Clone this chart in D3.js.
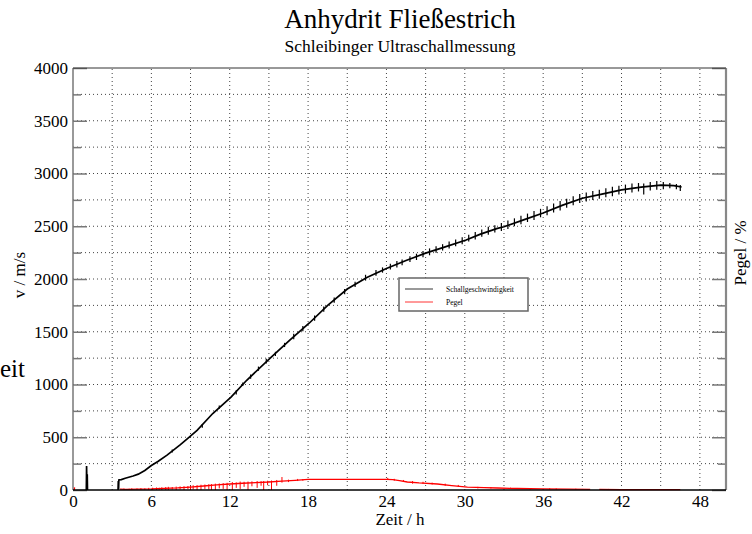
<!DOCTYPE html>
<html><head><meta charset="utf-8">
<script src="https://cdn.jsdelivr.net/npm/d3@7"></script>
<style>
html,body{margin:0;padding:0;background:#fff;overflow:hidden}
svg{display:block;font-family:"Liberation Serif","Times New Roman",serif}
</style></head>
<body>
<svg id="c" width="752" height="534"></svg>
<script>
// ---- data ----
const title = "Anhydrit Fließestrich";
const subtitle = "Schleibinger Ultraschallmessung";
const xLabel = "Zeit / h";
const yLabel = "v / m/s";
const y2Label = "Pegel / %";
const strayText = "eit";
const seriesNames = ["Schallgeschwindigkeit", "Pegel"];
const xTicks = [0, 6, 12, 18, 24, 30, 36, 42, 48];
const yTicks = [0, 500, 1000, 1500, 2000, 2500, 3000, 3500, 4000];

// Schallgeschwindigkeit (m/s), hours
const vHours = [1.02, 1.04, 1.07, 1.09, 1.11, null,
  3.45, 3.47, 3.49, 3.51, 3.7, 4.0, 4.6, 5.0, 5.5, 6.0, 6.5, 7.2, 8.2, 8.7, 9.5, 10.7, 12.1, 13.3, 15.1, 16.6,
  18.1, 19.5, 21.0, 22.5, 24.0, 25.5, 27.0, 28.5, 30.1, 31.2, 32.5, 33.0, 34.5, 36.0, 37.5, 39.0, 40.5,
  42.0, 43.5, 45.0, 46.0, 46.6];
const vValues = [0, 227, 0, 150, 0, null,
  0, 85, 10, 95, 98, 112, 133, 150, 185, 232, 270, 330, 427, 480, 565, 725, 880, 1040, 1250, 1420,
  1583, 1750, 1905, 2015, 2100, 2175, 2245, 2305, 2370, 2425, 2480, 2495, 2560, 2625, 2700, 2765, 2805,
  2845, 2870, 2890, 2885, 2872];
// short vertical jitter strokes of the black trace: [hour, low, high]
const vJitter = [[7.6,355,385],[9.9,590,625],[11.2,770,800],[12.5,905,945],[13.0,985,1020],[13.6,1055,1095],
  [14.2,1130,1170],[14.8,1200,1245],[15.5,1270,1310],[16.2,1355,1395],[16.9,1430,1480],[17.6,1505,1555],
  [18.5,1605,1655],[19.2,1690,1740],[20.0,1775,1825],[20.8,1855,1905],[21.6,1925,1975],[22.4,1985,2040],
  [23.2,2030,2085],[23.7,2060,2110],[24.3,2090,2145],[24.8,2110,2170],[25.2,2130,2185],[25.8,2160,2215],
  [26.3,2180,2240],[26.8,2205,2265],[27.3,2225,2290],[27.8,2250,2310],[28.3,2270,2330],[28.8,2290,2355],
  [29.3,2310,2375],[29.8,2330,2395],[30.3,2355,2420],[30.8,2375,2445],[31.3,2400,2470],[31.8,2420,2495],
  [32.3,2440,2510],[32.8,2455,2530],[33.3,2475,2555],[33.8,2500,2575],[34.3,2520,2600],[34.8,2540,2620],
  [35.3,2560,2645],[35.8,2585,2665],[36.3,2605,2690],[36.8,2630,2715],[37.3,2650,2740],[37.8,2675,2760],
  [38.3,2700,2785],[38.8,2720,2805],[39.3,2735,2820],[39.8,2750,2835],[40.3,2760,2845],[40.8,2775,2860],
  [41.3,2785,2875],[41.8,2800,2885],[42.3,2810,2895],[42.8,2820,2905],[43.3,2830,2910],[43.7,2800,2905],
  [44.2,2840,2920],[44.7,2845,2930],[45.2,2850,2920],[45.7,2860,2910],[46.2,2850,2900],[46.5,2835,2890]];

// Pegel (%), hours
const pHours = [0.10, 0.12, null, 3.6, 4.0, 5.0, 6.0, 7.0, 8.0, 9.0, 10.0, 11.0, 12.0, 13.0, 14.0, 15.0, 16.0, 17.0,
  18.0, 24.0, 24.5, 25.0, 25.6, 26.5, 27.9, 29.0, 30.2, 31.5, 32.5, 34.0, 36.0, 38.0, 39.6, null,
  40.3, 42.0, 44.0, 46.5];
const pValues = [0, 25, null, 8, 5, 8, 10, 15, 20, 28, 38, 48, 57, 64, 70, 76, 85, 92,
  100, 100, 98, 88, 76, 67, 57, 42, 28, 22, 19, 14, 10, 8, 6, null,
  5, 4, 4, 3];
// noise strokes of the red trace: [hour, low, high]
const pSpikes = [[3.9,0,14],[4.3,0,12],[4.5,0,16],[4.9,2,15],[5.2,0,18],[5.5,0,16],[5.8,0,20],[6.1,0,22],
  [6.4,0,24],[6.6,2,22],[6.8,0,26],[7.1,0,28],[7.3,0,30],[7.6,5,28],[7.9,0,32],[8.2,5,34],[8.5,0,36],
  [8.8,8,38],[9.0,0,40],[9.2,5,45],[9.5,0,46],[9.8,0,50],[10.1,10,52],[10.4,5,55],[10.6,0,56],[10.9,0,60],
  [11.2,15,62],[11.5,10,65],[11.8,0,68],[12.2,0,75],[12.5,20,72],[12.8,10,80],[13.1,30,78],[13.4,0,80],
  [13.7,35,82],[14.1,20,85],[14.4,40,84],[14.6,0,85],[14.9,45,88],[15.2,0,90],[15.6,40,95],[16.0,70,123],
  [16.5,75,98],[17.2,85,105],[17.6,88,104],[24.1,95,115],[24.6,88,106],[25.3,78,95],[26.0,60,85],
  [26.8,58,78],[27.5,52,70],[28.5,40,60],[29.5,30,48],[31.0,15,30],[32.0,14,26],[33.5,10,22],[35.0,5,18],
  [36.5,4,16],[37.0,3,15],[38.5,2,12],[41.0,0,10],[43.0,0,9],[45.0,0,8]];

// ---- chart ----
const svg = d3.select("#c");
const x = d3.scaleLinear().domain([0, 50]).range([73, 726]);
const y = d3.scaleLinear().domain([0, 4000]).range([490, 68]);

// grid
const gx = d3.range(3, 50, 3), gy = d3.range(250, 4000, 250);
svg.append("g").selectAll("line").data(gx).join("line")
  .attr("x1", d => x(d)).attr("x2", d => x(d)).attr("y1", y(0)).attr("y2", y(4000))
  .attr("stroke", "#444").attr("stroke-width", 1).attr("stroke-dasharray", "1,3");
svg.append("g").selectAll("line").data(gy).join("line")
  .attr("y1", d => y(d)).attr("y2", d => y(d)).attr("x1", x(0)).attr("x2", x(50))
  .attr("stroke", "#444").attr("stroke-width", 1).attr("stroke-dasharray", "1,3");

// left axis
const axL = svg.append("g").attr("transform", `translate(${x(0)},0)`)
  .call(d3.axisLeft(y).tickValues(yTicks).tickSize(-14).tickPadding(5).tickFormat(d3.format("d")));
axL.select(".domain").remove();
axL.selectAll("line").attr("stroke", "#777").attr("stroke-width", 1.5);
axL.selectAll("text").attr("font-size", 17).attr("font-family", "Liberation Serif").attr("fill", "#000");
const axLm = svg.append("g").attr("transform", `translate(${x(0)},0)`)
  .call(d3.axisLeft(y).tickValues(gy.filter(d => d % 500)).tickSize(-8).tickFormat(""));
axLm.select(".domain").remove();
axLm.selectAll("line").attr("stroke", "#777").attr("stroke-width", 1.5);

// right axis (no labels)
const axR = svg.append("g").attr("transform", `translate(${x(50)},0)`)
  .call(d3.axisRight(y).tickValues(yTicks).tickSize(-14).tickFormat(""));
axR.select(".domain").remove();
axR.selectAll("line").attr("stroke", "#777").attr("stroke-width", 1.5);
const axRm = svg.append("g").attr("transform", `translate(${x(50)},0)`)
  .call(d3.axisRight(y).tickValues(gy.filter(d => d % 500)).tickSize(-8).tickFormat(""));
axRm.select(".domain").remove();
axRm.selectAll("line").attr("stroke", "#777").attr("stroke-width", 1.5);

// bottom axis labels
const axB = svg.append("g").attr("transform", `translate(0,${y(0)})`)
  .call(d3.axisBottom(x).tickValues(xTicks).tickSize(0).tickPadding(5).tickFormat(d3.format("d")));
axB.select(".domain").remove();
axB.selectAll("text").attr("font-size", 17).attr("font-family", "Liberation Serif").attr("fill", "#000");

// frame
svg.append("line").attr("x1", x(0)).attr("x2", x(0)).attr("y1", y(0)).attr("y2", y(4000)).attr("stroke", "#777").attr("stroke-width", 1.5);
svg.append("line").attr("x1", x(50)).attr("x2", x(50)).attr("y1", y(0)).attr("y2", y(4000)).attr("stroke", "#888").attr("stroke-width", 2.2);
svg.append("line").attr("x1", x(0)).attr("x2", x(50)).attr("y1", y(4000)).attr("y2", y(4000)).attr("stroke", "#333").attr("stroke-width", 1);

// Pegel
const pData = pHours.map((h, i) => ({h, v: pValues[i]}));
svg.append("path").datum(pData)
  .attr("d", d3.line().defined(d => d.h != null).x(d => x(d.h)).y(d => y(d.v)))
  .attr("fill", "none").attr("stroke", "#ff0000").attr("stroke-width", 1.3);
svg.append("g").selectAll("line").data(pSpikes).join("line")
  .attr("x1", d => x(d[0])).attr("x2", d => x(d[0])).attr("y1", d => y(d[1])).attr("y2", d => y(d[2]))
  .attr("stroke", "#ff0000").attr("stroke-width", 1);

// bottom axis line
svg.append("line").attr("x1", x(0)).attr("x2", x(50)).attr("y1", y(0)).attr("y2", y(0)).attr("stroke", "#000").attr("stroke-width", 1.5);

// Schallgeschwindigkeit
const vData = vHours.map((h, i) => ({h, v: vValues[i]}));
svg.append("path").datum(vData)
  .attr("d", d3.line().defined(d => d.h != null).x(d => x(d.h)).y(d => y(d.v)))
  .attr("fill", "none").attr("stroke", "#000").attr("stroke-width", 1.7);
svg.append("g").selectAll("line").data(vJitter).join("line")
  .attr("x1", d => x(d[0])).attr("x2", d => x(d[0])).attr("y1", d => y(d[1])).attr("y2", d => y(d[2]))
  .attr("stroke", "#000").attr("stroke-width", 1.2);

// legend
const lg = svg.append("g").attr("transform", "translate(399,278)");
lg.append("rect").attr("width", 129).attr("height", 33).attr("fill", "#fff").attr("stroke", "#666").attr("stroke-width", 1.5);
const lc = ["#000", "#ff0000"];
seriesNames.forEach((n, i) => {
  lg.append("line").attr("x1", 6).attr("x2", 34).attr("y1", 11 + i * 13).attr("y2", 11 + i * 13)
    .attr("stroke", lc[i]).attr("stroke-width", 0.8);
  lg.append("text").attr("x", 47).attr("y", 13.5 + i * 13).attr("font-size", 7.5).text(n);
});

// titles
svg.append("text").attr("x", 400).attr("y", 28).attr("text-anchor", "middle").attr("font-size", 27).text(title);
svg.append("text").attr("x", 400).attr("y", 52).attr("text-anchor", "middle").attr("font-size", 17.5).text(subtitle);
svg.append("text").attr("x", 400).attr("y", 525).attr("text-anchor", "middle").attr("font-size", 17).text(xLabel);
svg.append("text").attr("transform", "translate(25,275) rotate(-90)").attr("text-anchor", "middle").attr("font-size", 17).text(yLabel);
svg.append("text").attr("transform", "translate(746,253) rotate(-90)").attr("text-anchor", "middle").attr("font-size", 17).text(y2Label);
svg.append("text").attr("x", 0).attr("y", 377).attr("text-anchor", "start").attr("font-size", 25).text(strayText);
</script>
</body></html>
